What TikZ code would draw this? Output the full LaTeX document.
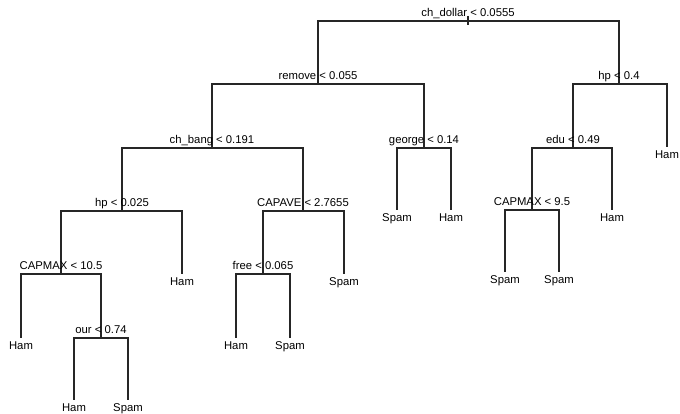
\documentclass[tikz,border=0pt]{standalone}
\usepackage{fontspec}
\setmainfont{Liberation Sans}
\begin{document}
\begin{tikzpicture}[x=1pt,y=-1pt,
  edge/.style={draw=black!85,line width=1.1pt},
  split/.style={anchor=base,inner sep=0pt,font=\fontsize{11.3}{13}\selectfont},
  leaf/.style={anchor=north,inner sep=0pt,font=\fontsize{11.3}{13}\selectfont},
]
\useasboundingbox (0,0) rectangle (680,414);
% internal split points
\coordinate (root) at (468,21);
\coordinate (rootA) at (468,16);
\coordinate (rootB) at (468,25);
\coordinate (remove) at (318,84);
\coordinate (hpA) at (619,84);
\coordinate (bang) at (212,148);
\coordinate (george) at (424,148);
\coordinate (edu) at (573,148);
\coordinate (hpB) at (122,211);
\coordinate (capave) at (303,211);
\coordinate (capmaxB) at (532,210);
\coordinate (capmaxA) at (61,274);
\coordinate (free) at (263,274);
\coordinate (our) at (101,338);
% leaf ends
\coordinate (l1) at (667,147);
\coordinate (l2) at (397,210);
\coordinate (l3) at (451,210);
\coordinate (l4) at (612,210);
\coordinate (l5) at (182,274);
\coordinate (l6) at (344,274);
\coordinate (l7) at (505,272);
\coordinate (l8) at (559,272);
\coordinate (l9) at (21,338);
\coordinate (l10) at (236,338);
\coordinate (l11) at (290,338);
\coordinate (l12) at (74,400);
\coordinate (l13) at (128,400);
% connectors
\draw[edge] (rootA) -- (rootB);
\draw[edge] (root) -| (remove);
\draw[edge] (root) -| (hpA);
\draw[edge] (remove) -| (bang);
\draw[edge] (remove) -| (george);
\draw[edge] (hpA) -| (edu);
\draw[edge] (hpA) -| (l1);
\draw[edge] (bang) -| (hpB);
\draw[edge] (bang) -| (capave);
\draw[edge] (george) -| (l2);
\draw[edge] (george) -| (l3);
\draw[edge] (edu) -| (capmaxB);
\draw[edge] (edu) -| (l4);
\draw[edge] (hpB) -| (capmaxA);
\draw[edge] (hpB) -| (l5);
\draw[edge] (capave) -| (free);
\draw[edge] (capave) -| (l6);
\draw[edge] (capmaxB) -| (l7);
\draw[edge] (capmaxB) -| (l8);
\draw[edge] (capmaxA) -| (l9);
\draw[edge] (capmaxA) -| (our);
\draw[edge] (free) -| (l10);
\draw[edge] (free) -| (l11);
\draw[edge] (our) -| (l12);
\draw[edge] (our) -| (l13);
% split labels
\node[split] (trootA) at ([yshift=4.5pt]root) {ch\_dollar < 0.0555};
\node[split] (tremove) at ([yshift=4.5pt]remove) {remove < 0.055};
\node[split] (thpA) at ([yshift=4.5pt]hpA) {hp < 0.4};
\node[split] (tbang) at ([yshift=4.5pt]bang) {ch\_bang < 0.191};
\node[split] (tgeorge) at ([yshift=4.5pt]george) {george < 0.14};
\node[split] (tedu) at ([yshift=4.5pt]edu) {edu < 0.49};
\node[split] (thpB) at ([yshift=4.5pt]hpB) {hp < 0.025};
\node[split] (tcapave) at ([yshift=4.5pt]capave) {CAPAVE < 2.7655};
\node[split] (tcapmaxB) at ([yshift=4.5pt]capmaxB) {CAPMAX < 9.5};
\node[split] (tcapmaxA) at ([yshift=4.5pt]capmaxA) {CAPMAX < 10.5};
\node[split] (tfree) at ([yshift=4.5pt]free) {free < 0.065};
\node[split] (tour) at ([yshift=4.5pt]our) {our < 0.74};
% leaf labels
\node[leaf] (t1) at ([yshift=-3.5pt]l1) {Ham};
\node[leaf] (t2) at ([yshift=-3.5pt]l2) {Spam};
\node[leaf] (t3) at ([yshift=-3.5pt]l3) {Ham};
\node[leaf] (t4) at ([yshift=-3.5pt]l4) {Ham};
\node[leaf] (t5) at ([yshift=-3.5pt]l5) {Ham};
\node[leaf] (t6) at ([yshift=-3.5pt]l6) {Spam};
\node[leaf] (t7) at ([yshift=-3.5pt]l7) {Spam};
\node[leaf] (t8) at ([yshift=-3.5pt]l8) {Spam};
\node[leaf] (t9) at ([yshift=-3.5pt]l9) {Ham};
\node[leaf] (t10) at ([yshift=-3.5pt]l10) {Ham};
\node[leaf] (t11) at ([yshift=-3.5pt]l11) {Spam};
\node[leaf] (t12) at ([yshift=-3.5pt]l12) {Ham};
\node[leaf] (t13) at ([yshift=-3.5pt]l13) {Spam};
\end{tikzpicture}
\end{document}
